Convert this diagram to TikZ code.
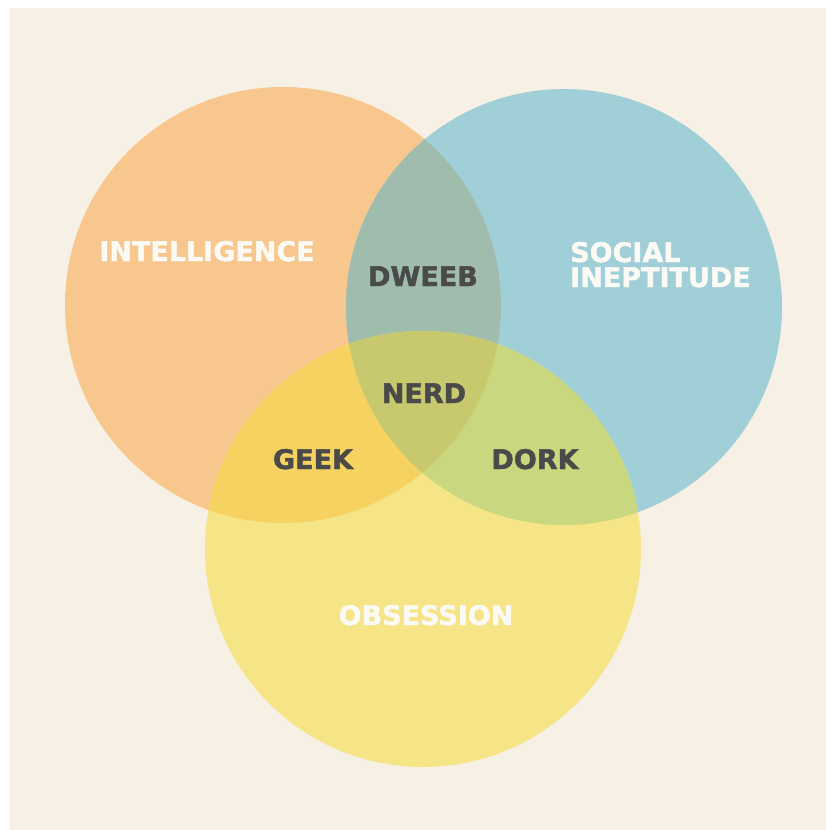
\documentclass[tikz,border=0pt]{standalone}
\usepackage{fontspec}
\setmainfont{DejaVu Sans}[BoldFeatures={FakeBold=1.6}]
\definecolor{bgcream}{HTML}{F7F0E4}
\definecolor{corange}{HTML}{F8C78E}
\definecolor{cblue}{HTML}{A0CFD8}
\definecolor{cyellow}{HTML}{F5E587}
\definecolor{cob}{HTML}{A0BCAC}
\definecolor{coy}{HTML}{F6D360}
\definecolor{cby}{HTML}{C9D87E}
\definecolor{call}{HTML}{C8C86E}
\definecolor{darklbl}{HTML}{4A4A4A}
\definecolor{lightlbl}{HTML}{FBFAF5}
\tikzset{
  setlabel/.style={font=\fontsize{27}{24}\selectfont\bfseries, text=lightlbl, inner sep=0pt, anchor=base},
  typelabel/.style={font=\fontsize{27}{24}\selectfont\bfseries, text=darklbl, inner sep=0pt, anchor=base},
}
\begin{document}
\begin{tikzpicture}[x=1pt,y=-1pt]
  \useasboundingbox (0,0) rectangle (826,830);
  \fill[white] (0,0) rectangle (826,830);
  \fill[bgcream] (10,8) rectangle (827,831);
  \coordinate (cI) at (283,305);
  \coordinate (cS) at (564,307);
  \coordinate (cO) at (423,549);
  \def\R{218}
  % single circles
  \fill[corange] (cI) circle (\R);
  \fill[cblue] (cS) circle (\R);
  \fill[cyellow] (cO) circle (\R);
  % pairwise overlaps
  \begin{scope}
    \clip (cI) circle (\R);
    \fill[cob] (cS) circle (\R);
    \fill[coy] (cO) circle (\R);
  \end{scope}
  \begin{scope}
    \clip (cS) circle (\R);
    \fill[cby] (cO) circle (\R);
  \end{scope}
  % triple overlap
  \begin{scope}
    \clip (cI) circle (\R);
    \clip (cS) circle (\R);
    \fill[call] (cO) circle (\R);
  \end{scope}
  % labels
  \node[setlabel] (intel) at (207,261) {INTELLIGENCE};
  \node[setlabel, anchor=base west] (social) at (570,262) {SOCIAL};
  \node[setlabel, anchor=base west] (inept) at (570,287) {INEPTITUDE};
  \node[setlabel] (obs) at (426,625) {OBSESSION};
  \node[typelabel] (dweeb) at (423,286) {DWEEB};
  \node[typelabel] (nerd) at (424,403) {NERD};
  \node[typelabel] (geek) at (313,469) {GEEK};
  \node[typelabel] (dork) at (535,469) {DORK};
\end{tikzpicture}
\end{document}
